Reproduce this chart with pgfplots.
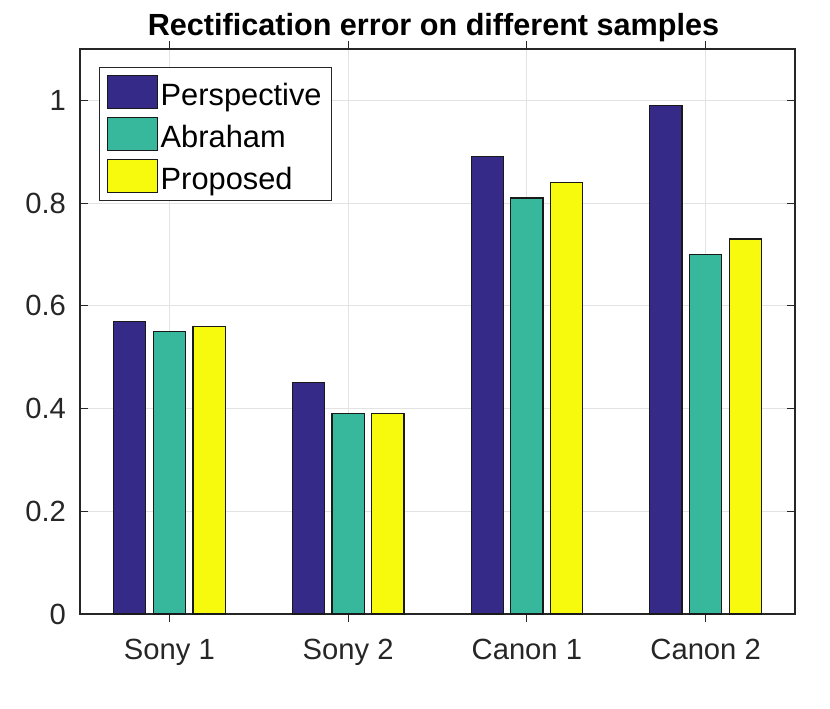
\documentclass[border=0pt]{standalone}
\usepackage{pgfplots}
\pgfplotsset{compat=1.18}
\usepackage{fontspec}
\setmainfont{Liberation Sans}
\definecolor{cPer}{RGB}{53,42,135}
\definecolor{cAbr}{RGB}{55,184,157}
\definecolor{cPro}{RGB}{248,250,13}
\definecolor{axgray}{RGB}{38,38,38}
\pgfplotsset{
  layers/mylayers/.define layer set={axis background,axis grid,main,axis ticks,axis lines,axis tick labels,axis descriptions,axis foreground}{},
}
\begin{document}
\begin{tikzpicture}
\begin{axis}[
  name=ax,
  set layers=mylayers,
  scale only axis,
  width=357.5pt, height=282.5pt,
  xmin=0.5, xmax=4.5,
  ymin=0, ymax=1.1,
  xtick={1,2,3,4},
  xticklabels={Sony 1,Sony 2,Canon 1,Canon 2},
  ytick={0,0.2,0.4,0.6,0.8,1},
  yticklabels={0,0.2,0.4,0.6,0.8,1},
  tick align=inside,
  major tick length=4pt,
  tick style={axgray, line width=0.5pt},
  axis line style={axgray, line width=0.6pt},
  ticklabel style={font=\fontsize{14.6pt}{16pt}\selectfont, text=axgray},
  xticklabel style={yshift=-5pt},
  yticklabel style={xshift=-3.5pt},
  /pgf/number format/assume math mode=true,
  grid=major,
  major grid style={black!11, line width=0.5pt},
  title={\textbf{Rectification error on different samples}},
  title style={font=\fontsize{15.3pt}{17pt}\selectfont, yshift=-6pt, xshift=-2pt},
  ybar,
  bar width=0.18,
  legend style={
    at={(0,1)}, anchor=north west, xshift=9.5pt, yshift=-9pt,
    draw=axgray, line width=0.5pt, fill=white,
    font=\fontsize{15.4pt}{17pt}\selectfont,
    inner sep=3.5pt, row sep=3.75pt, column sep=0pt,
    nodes={inner sep=1.5pt, text height=11pt, text depth=0.5pt},
    cells={anchor=base west},
  },
  legend image code/.code={\draw[#1, line width=0.6pt] (0pt,-1.5pt) rectangle (25pt,15pt);},
]
\addplot[fill=cPer, draw=black!90, line width=0.6pt, bar shift=-0.222] coordinates {(1,0.57) (2,0.45) (3,0.89) (4,0.99)};
\addplot[fill=cAbr, draw=black!90, line width=0.6pt, bar shift=0] coordinates {(1,0.55) (2,0.39) (3,0.81) (4,0.70)};
\addplot[fill=cPro, draw=black!90, line width=0.6pt, bar shift=0.222] coordinates {(1,0.56) (2,0.39) (3,0.84) (4,0.73)};
\legend{Perspective,Abraham,Proposed}
\end{axis}
\pgfresetboundingbox
\path[use as bounding box] ([shift={(-40pt,-47pt)}]ax.south west) rectangle ([shift={(17.5pt,24.5pt)}]ax.north east);
\end{tikzpicture}
\end{document}
